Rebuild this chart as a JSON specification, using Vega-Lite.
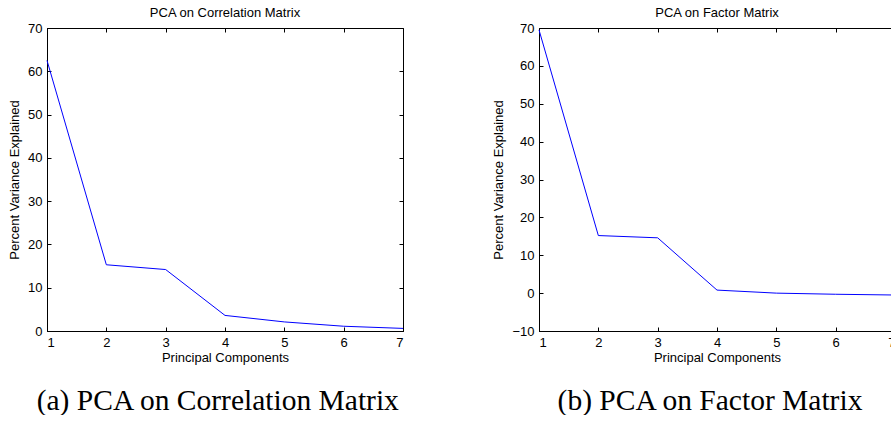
{
  "$schema": "https://vega.github.io/schema/vega-lite/v6.json",
  "background": "white",
  "padding": {"left": 8, "top": 6, "right": 0, "bottom": 0},
  "config": {
    "view": {"stroke": "black", "strokeWidth": 1},
    "font": "Liberation Sans",
    "axis": {
      "domainColor": "black", "domainWidth": 1,
      "tickColor": "black", "tickSize": -4,
      "labelColor": "black", "titleColor": "black",
      "labelFont": "Liberation Sans", "titleFont": "Liberation Sans",
      "labelFontSize": 13, "titleFontSize": 13, "titleFontWeight": "normal",
      "labelPadding": 9, "grid": false
    }
  },
  "datasets": {
    "corr": [
      {"pc": 1, "pct": 62.5}, {"pc": 2, "pct": 15.3}, {"pc": 3, "pct": 14.2},
      {"pc": 4, "pct": 3.6}, {"pc": 5, "pct": 2.1}, {"pc": 6, "pct": 1.1}, {"pc": 7, "pct": 0.6}
    ],
    "factor": [
      {"pc": 1, "pct": 69.5}, {"pc": 2, "pct": 15.2}, {"pc": 3, "pct": 14.6},
      {"pc": 4, "pct": 0.8}, {"pc": 5, "pct": 0.0}, {"pc": 6, "pct": -0.3}, {"pc": 7, "pct": -0.5}
    ]
  },
  "spacing": 86,
  "hconcat": [
    {
      "title": {"text": "(a) PCA on Correlation Matrix", "orient": "bottom", "anchor": "middle", "frame": "bounds", "dx": 11, "font": "Liberation Serif", "fontSize": 29.5, "fontWeight": "normal", "color": "black", "offset": 22},
      "vconcat": [
        {
          "title": {"text": "PCA on Correlation Matrix", "anchor": "middle", "frame": "group", "font": "Liberation Sans", "fontSize": 13, "fontWeight": "normal", "color": "black", "offset": 2},
          "width": 356, "height": 303,
          "data": {"name": "corr"},
          "layer": [
            {
              "mark": {"type": "line", "color": "#0000ff", "strokeWidth": 1},
              "encoding": {
                "x": {"field": "pc", "type": "quantitative", "scale": {"domain": [1, 7], "nice": false, "zero": false},
                      "axis": {"orient": "bottom", "values": [1, 2, 3, 4, 5, 6, 7], "title": "Principal Components", "titlePadding": 2}},
                "y": {"field": "pct", "type": "quantitative", "scale": {"domain": [0, 70], "nice": false},
                      "axis": {"orient": "left", "values": [0, 10, 20, 30, 40, 50, 60, 70], "title": "Percent Variance Explained", "titlePadding": 6}}
              }
            },
            {
              "mark": {"type": "line", "opacity": 0},
              "encoding": {
                "x": {"field": "pc", "type": "quantitative", "axis": {"orient": "top", "values": [1, 2, 3, 4, 5, 6, 7], "labels": false, "title": null, "domain": false}},
                "y": {"field": "pct", "type": "quantitative", "axis": {"orient": "right", "values": [0, 10, 20, 30, 40, 50, 60, 70], "labels": false, "title": null, "domain": false}}
              }
            }
          ],
          "resolve": {"axis": {"x": "independent", "y": "independent"}}
        }
      ]
    },
    {
      "title": {"text": "(b) PCA on Factor Matrix", "orient": "bottom", "anchor": "middle", "frame": "bounds", "dx": 15, "font": "Liberation Serif", "fontSize": 29.5, "fontWeight": "normal", "color": "black", "offset": 22},
      "vconcat": [
        {
          "title": {"text": "PCA on Factor Matrix", "anchor": "middle", "frame": "group", "font": "Liberation Sans", "fontSize": 13, "fontWeight": "normal", "color": "black", "offset": 2},
          "width": 356, "height": 303,
          "data": {"name": "factor"},
          "layer": [
            {
              "mark": {"type": "line", "color": "#0000ff", "strokeWidth": 1},
              "encoding": {
                "x": {"field": "pc", "type": "quantitative", "scale": {"domain": [1, 7], "nice": false, "zero": false},
                      "axis": {"orient": "bottom", "values": [1, 2, 3, 4, 5, 6, 7], "title": "Principal Components", "titlePadding": 2}},
                "y": {"field": "pct", "type": "quantitative", "scale": {"domain": [-10, 70], "nice": false},
                      "axis": {"orient": "left", "values": [-10, 0, 10, 20, 30, 40, 50, 60, 70], "title": "Percent Variance Explained", "titlePadding": 6}}
              }
            },
            {
              "mark": {"type": "line", "opacity": 0},
              "encoding": {
                "x": {"field": "pc", "type": "quantitative", "axis": {"orient": "top", "values": [1, 2, 3, 4, 5, 6, 7], "labels": false, "title": null, "domain": false}},
                "y": {"field": "pct", "type": "quantitative", "axis": {"orient": "right", "values": [-10, 0, 10, 20, 30, 40, 50, 60, 70], "labels": false, "title": null, "domain": false}}
              }
            }
          ],
          "resolve": {"axis": {"x": "independent", "y": "independent"}}
        }
      ]
    }
  ]
}
